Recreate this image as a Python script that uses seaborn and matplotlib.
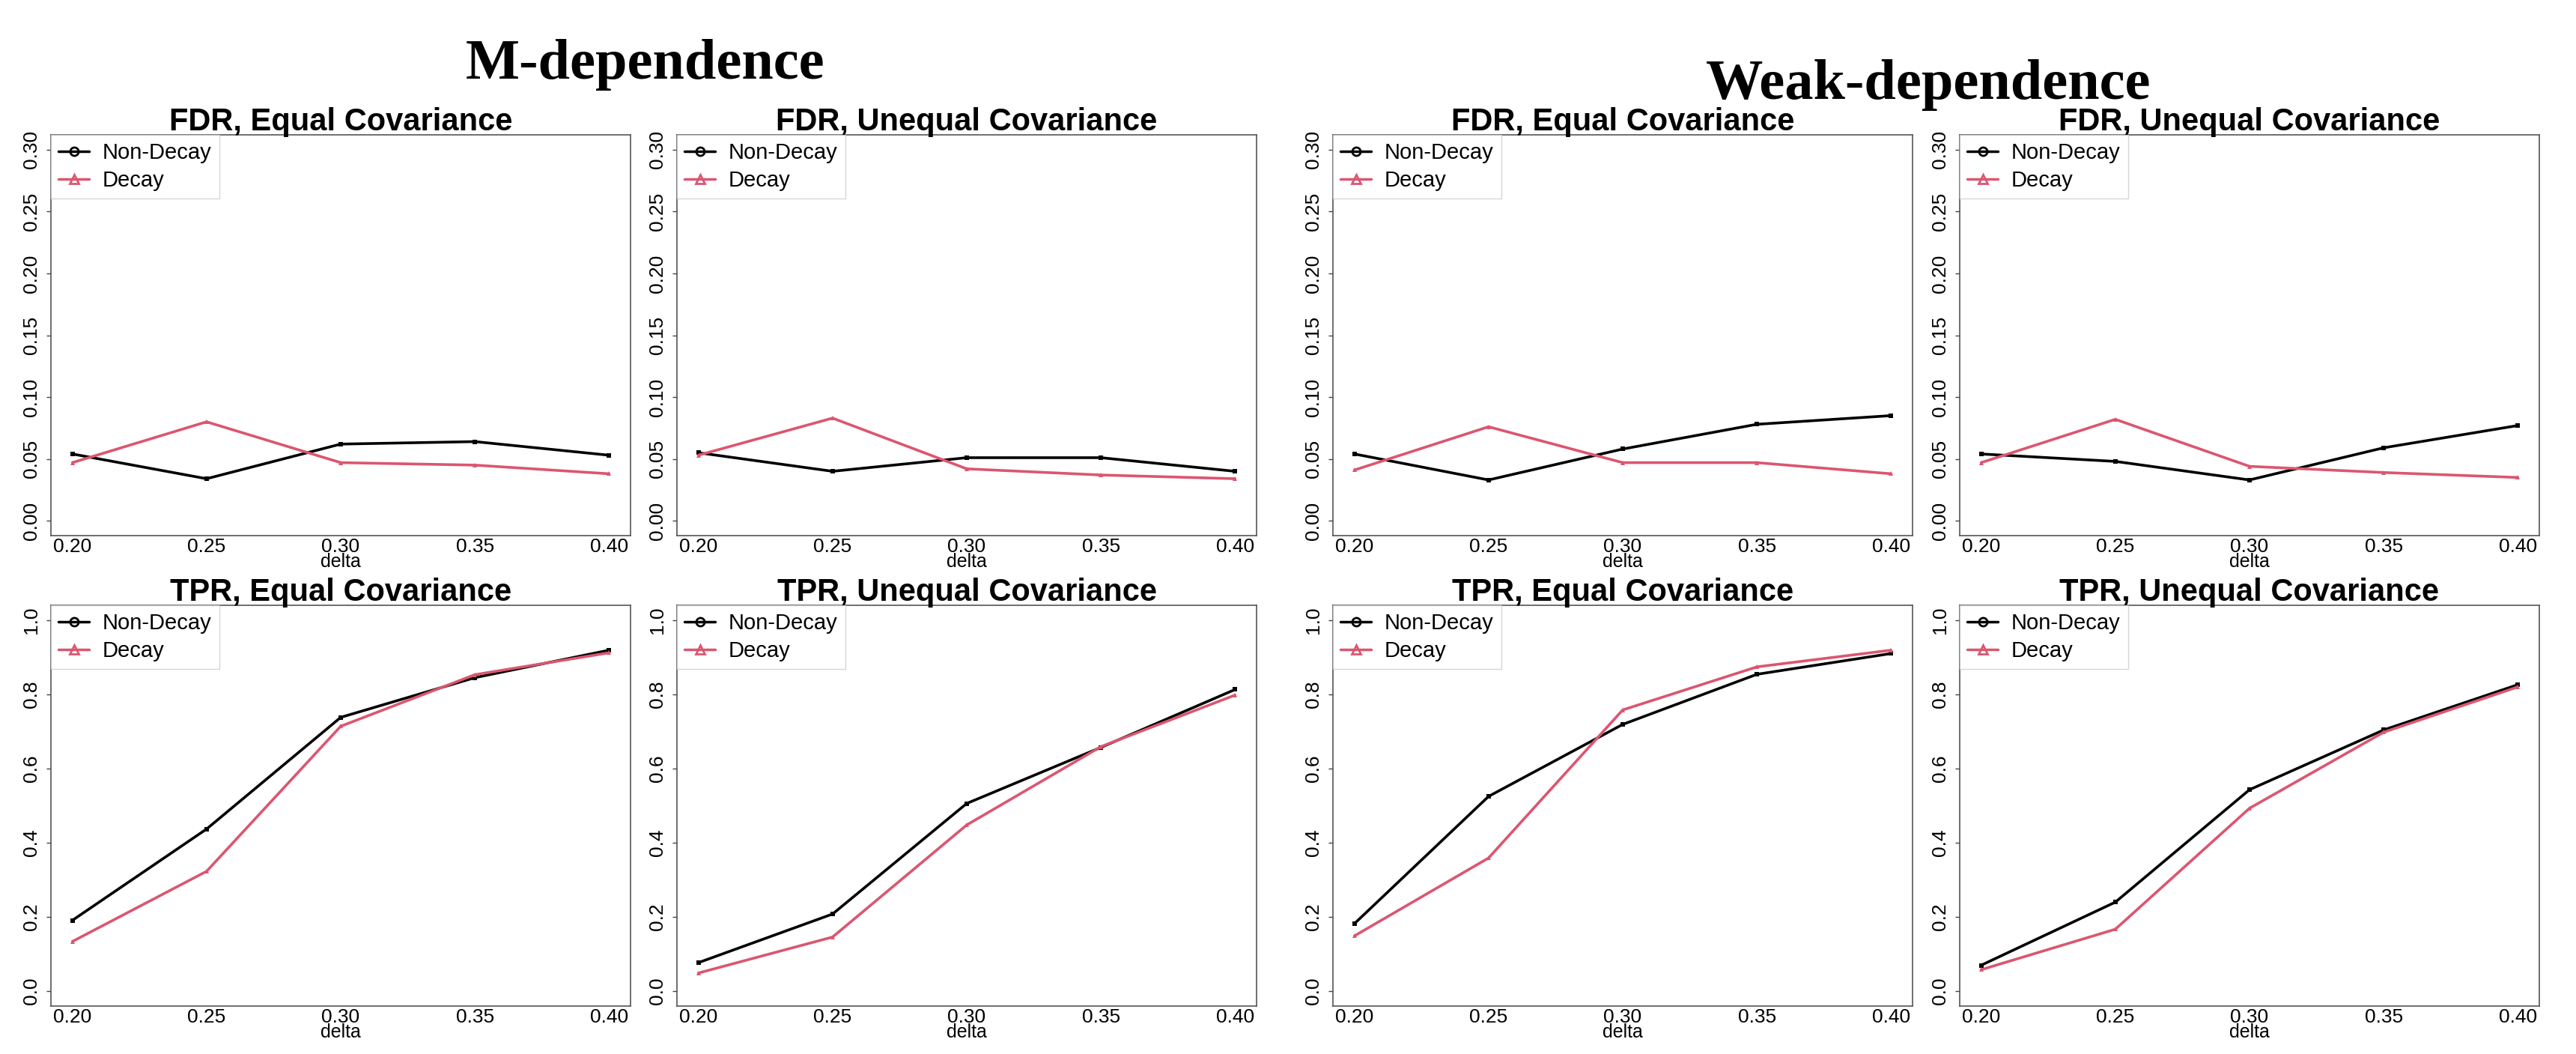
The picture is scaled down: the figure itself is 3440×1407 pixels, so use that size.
import matplotlib
matplotlib.use("Agg")
import matplotlib.pyplot as plt
from matplotlib.lines import Line2D
import pandas as pd
import seaborn as sns

delta = [0.20, 0.25, 0.30, 0.35, 0.40]
methods = ["Non-Decay", "Decay"]

# M-dependence
m_fdr_eq_nondecay = [0.054, 0.034, 0.062, 0.064, 0.053]
m_fdr_eq_decay = [0.047, 0.080, 0.047, 0.045, 0.038]
m_fdr_uneq_nondecay = [0.055, 0.040, 0.051, 0.051, 0.040]
m_fdr_uneq_decay = [0.053, 0.083, 0.042, 0.037, 0.034]
m_tpr_eq_nondecay = [0.191, 0.437, 0.738, 0.845, 0.919]
m_tpr_eq_decay = [0.134, 0.323, 0.714, 0.853, 0.912]
m_tpr_uneq_nondecay = [0.077, 0.208, 0.506, 0.657, 0.813]
m_tpr_uneq_decay = [0.049, 0.146, 0.448, 0.659, 0.798]

# Weak-dependence
w_fdr_eq_nondecay = [0.054, 0.033, 0.058, 0.078, 0.085]
w_fdr_eq_decay = [0.041, 0.076, 0.047, 0.047, 0.038]
w_fdr_uneq_nondecay = [0.054, 0.048, 0.033, 0.059, 0.077]
w_fdr_uneq_decay = [0.047, 0.082, 0.044, 0.039, 0.035]
w_tpr_eq_nondecay = [0.182, 0.525, 0.719, 0.854, 0.910]
w_tpr_eq_decay = [0.149, 0.359, 0.758, 0.874, 0.919]
w_tpr_uneq_nondecay = [0.070, 0.240, 0.543, 0.704, 0.826]
w_tpr_uneq_decay = [0.058, 0.167, 0.493, 0.698, 0.820]

fdr_ticks = [0.00, 0.05, 0.10, 0.15, 0.20, 0.25, 0.30]
tpr_ticks = [0.0, 0.2, 0.4, 0.6, 0.8, 1.0]

sns.set_style("white")
plt.rcParams["font.family"] = ["Liberation Sans", "DejaVu Sans"]
for key in ["text.color", "axes.labelcolor", "xtick.color", "ytick.color"]:
    plt.rcParams[key] = "black"

pink = "#DB5670"
palette = {"Non-Decay": "black", "Decay": pink}
markers = {"Non-Decay": "s", "Decay": "^"}

W, H = 3440, 1407
fig = plt.figure(figsize=(W / 100, H / 100), dpi=100)

col_left = [68, 904, 1780, 2617]
ax_w = 774
row_top = {"FDR": 180, "TPR": 808}
ax_h = 535

panels = [
    (0, "FDR", "FDR, Equal Covariance", m_fdr_eq_nondecay, m_fdr_eq_decay),
    (1, "FDR", "FDR, Unequal Covariance", m_fdr_uneq_nondecay, m_fdr_uneq_decay),
    (0, "TPR", "TPR, Equal Covariance", m_tpr_eq_nondecay, m_tpr_eq_decay),
    (1, "TPR", "TPR, Unequal Covariance", m_tpr_uneq_nondecay, m_tpr_uneq_decay),
    (2, "FDR", "FDR, Equal Covariance", w_fdr_eq_nondecay, w_fdr_eq_decay),
    (3, "FDR", "FDR, Unequal Covariance", w_fdr_uneq_nondecay, w_fdr_uneq_decay),
    (2, "TPR", "TPR, Equal Covariance", w_tpr_eq_nondecay, w_tpr_eq_decay),
    (3, "TPR", "TPR, Unequal Covariance", w_tpr_uneq_nondecay, w_tpr_uneq_decay),
]

legend_handles = [
    Line2D([], [], color="black", lw=2.5, marker="o", markersize=8,
           markerfacecolor="none", markeredgewidth=2),
    Line2D([], [], color=pink, lw=2.5, marker="^", markersize=9,
           markerfacecolor="none", markeredgewidth=2),
]

for col, kind, title, nondecay, decay in panels:
    left = col_left[col] / W
    bottom = (H - row_top[kind] - ax_h) / H
    ax = fig.add_axes([left, bottom, ax_w / W, ax_h / H])

    df = pd.DataFrame({
        "delta": delta * 2,
        "value": nondecay + decay,
        "method": [methods[0]] * len(delta) + [methods[1]] * len(delta),
    })
    sns.lineplot(data=df, x="delta", y="value", hue="method", style="method",
                 hue_order=methods, style_order=methods, palette=palette,
                 markers=markers, dashes=False, lw=2.6, markersize=5,
                 markeredgewidth=0, legend=False, ax=ax)

    ax.set_xlim(0.192, 0.408)
    ax.set_xticks(delta)
    ax.set_xticklabels([f"{d:.2f}" for d in delta])
    if kind == "FDR":
        ax.set_ylim(-0.012, 0.312)
        ax.set_yticks(fdr_ticks)
        ax.set_yticklabels([f"{t:.2f}" for t in fdr_ticks])
    else:
        ax.set_ylim(-0.04, 1.04)
        ax.set_yticks(tpr_ticks)
        ax.set_yticklabels([f"{t:.1f}" for t in tpr_ticks])

    ax.tick_params(axis="x", length=0, pad=2, labelsize=19)
    ax.tick_params(axis="y", left=True, length=4, width=1, color="#444444",
                   pad=6, labelsize=19, labelrotation=90)
    for lab in ax.get_yticklabels():
        lab.set_verticalalignment("center")
    ax.set_xlabel("delta", fontsize=18, labelpad=-3)
    ax.set_ylabel("")
    ax.set_title(title, fontsize=30, fontweight="bold", pad=4)
    for sp in ax.spines.values():
        sp.set_visible(True)
        sp.set_color("#555555")
        sp.set_linewidth(1.2)

    leg = ax.legend(legend_handles, methods, loc="upper left",
                    bbox_to_anchor=(0, 1), borderaxespad=0, fontsize=21,
                    frameon=True, fancybox=False, handlelength=1.4,
                    handletextpad=0.6, labelspacing=0.3, borderpad=0.35)
    leg.get_frame().set_edgecolor("#cccccc")
    leg.get_frame().set_linewidth(1.0)

fig.text(862 / W, 1 - 105 / H, "M-dependence", ha="center", va="baseline",
         fontsize=55, fontweight="bold", family=["Liberation Serif", "DejaVu Serif"])
fig.text(2575 / W, 1 - 132 / H, "Weak-dependence", ha="center", va="baseline",
         fontsize=55, fontweight="bold", family=["Liberation Serif", "DejaVu Serif"])

fig.savefig("out.png", dpi=100, facecolor="white")
